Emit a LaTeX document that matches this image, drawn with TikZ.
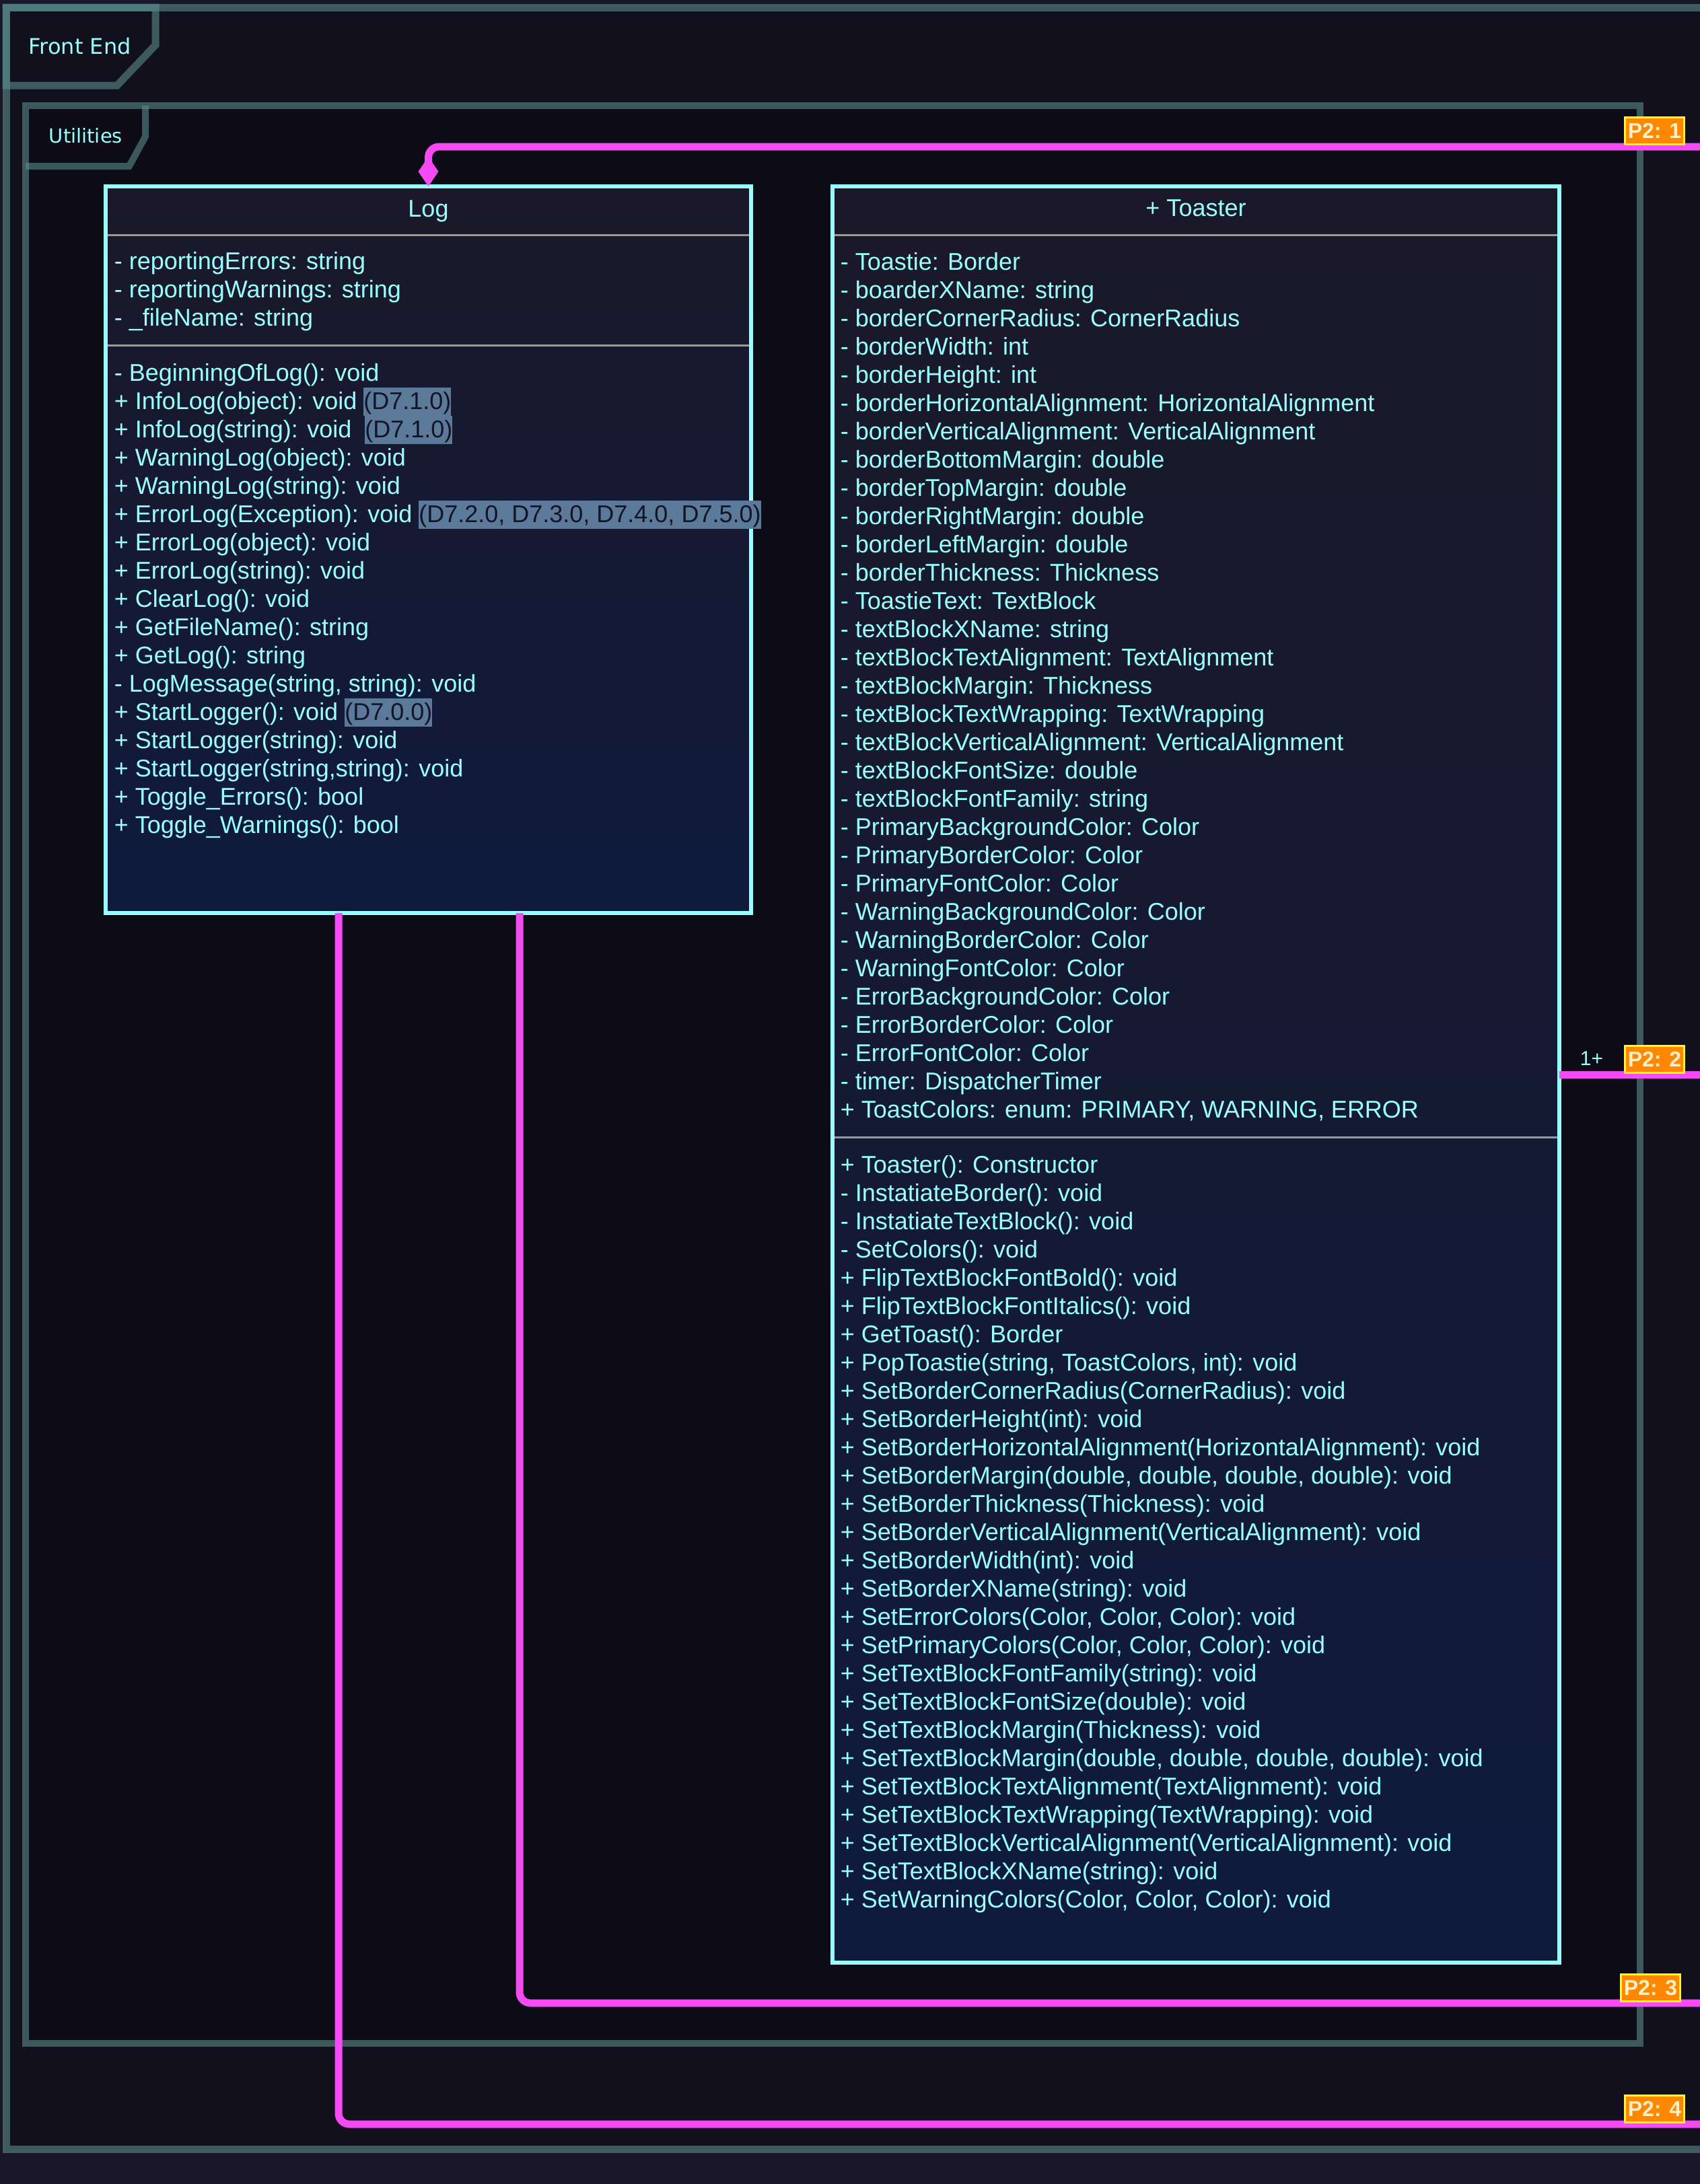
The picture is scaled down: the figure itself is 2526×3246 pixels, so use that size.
\documentclass[tikz,border=0pt]{standalone}
\usepackage{fontspec}
\setmainfont{Liberation Sans}
\newfontfamily\framefont{DejaVu Sans}
\usetikzlibrary{arrows.meta,calc,fit}

\definecolor{outerbg}{HTML}{1A1828}
\definecolor{febg}{HTML}{11101C}
\definecolor{utbg}{HTML}{0C0B16}
\definecolor{framec}{HTML}{5B8C8C}
\definecolor{cyantext}{HTML}{99FFFF}
\definecolor{boxtop}{HTML}{1B1929}
\definecolor{boxbot}{HTML}{0F1A3D}
\definecolor{sepgrey}{HTML}{9A9A9A}
\definecolor{linkc}{HTML}{F54BF5}
\definecolor{tagfill}{HTML}{FF8800}
\definecolor{tagborder}{HTML}{FFFF00}
\definecolor{tagtext}{HTML}{FFF0C8}
\definecolor{verbg}{HTML}{5B7A99}
\definecolor{verfg}{HTML}{141426}

% version marker behind a member
\newcommand\ver[1]{{\setlength{\fboxsep}{0pt}\colorbox{verbg}{\color{verfg}\rule[-2.5pt]{0pt}{10.5pt}(#1)}}}

\begin{document}
\begin{tikzpicture}[x=0.25pt,y=-0.25pt,
    frame/.style={draw=framec,draw opacity=.6,line width=2.75pt},
    framelabel/.style={anchor=base west,inner sep=0pt,text=cyantext},
    classbox/.style={draw=cyantext,line width=1.5pt,top color=boxtop,bottom color=boxbot,inner sep=0pt,outer sep=0pt},
    member/.style={anchor=base west,inner sep=0pt,text=cyantext,font=\fontsize{9}{10.5}\selectfont},
    classname/.style={member,anchor=base},
    sep/.style={draw=sepgrey,line width=.75pt,shorten <=.75pt,shorten >=.75pt},
    link/.style={draw=linkc,line width=2.75pt,rounded corners=4pt},
    tag/.style={fill=tagfill,draw=tagborder,line width=.75pt,text=tagtext,font=\bfseries\fontsize{8}{9}\selectfont,
      inner sep=1pt,outer sep=0pt,minimum width=21pt,minimum height=10pt,anchor=south}]
  \useasboundingbox (0,0) rectangle (2526,3246);
  % background
  \fill[outerbg] (0,0) rectangle (2526,3246);
  \fill[febg] (9,11) rectangle (2560,3194);
  \fill[utbg] (38,157) rectangle (2437,3037);
  % frames
  \draw[frame] (9,11) rectangle (2560,3194);
  \draw[frame] (9,11) -- (231,11) -- (231,67) -- (174,127) -- (9,127) -- cycle;
  \node[framelabel,font=\framefont\fontsize{8}{9}\selectfont] (fe) at (42,80) {Front End};
  \draw[frame,line width=2.5pt] (38,157) rectangle (2437,3037);
  \draw[frame,line width=2.5pt] (216,157) -- (216,203) -- (192,247) -- (38,247);
  \node[framelabel,font=\framefont\fontsize{7.25}{8.5}\selectfont] (ut) at (72,212) {Utilities};

  % Log
  \node[classbox,fit={(157,277) (1116,1357)}] (log) {};
  \draw[sep] (157,349) -- (1116,349);
  \draw[sep] (157,513) -- (1116,513);
  \node[classname] (logname) at (636.5,322) {Log};
  \foreach \t [count=\i from 0] in {{- reportingErrors: string},{- reportingWarnings: string},{- \_fileName: string}}
    \node[member] at (169,400+42*\i) {\t};
  \foreach \t [count=\i from 0] in {
      {- BeginningOfLog(): void},
      {+ InfoLog(object): void \ver{D7.1.0}},
      {+ InfoLog(string): void\ \ \ver{D7.1.0}},
      {+ WarningLog(object): void},
      {+ WarningLog(string): void},
      {+ ErrorLog(Exception): void \ver{D7.2.0, D7.3.0, D7.4.0, D7.5.0}},
      {+ ErrorLog(object): void},
      {+ ErrorLog(string): void},
      {+ ClearLog(): void},
      {+ GetFileName(): string},
      {+ GetLog(): string},
      {- LogMessage(string, string): void},
      {+ StartLogger(): void \ver{D7.0.0}},
      {+ StartLogger(string): void},
      {+ StartLogger(string,string): void},
      {+ Toggle\_Errors(): bool},
      {+ Toggle\_Warnings(): bool}}
    \node[member] at (169,566+42*\i) {\t};

  % Toaster
  \node[classbox,fit={(1237,277) (2317,2917)}] (toaster) {};
  \draw[sep] (1237,349) -- (2317,349);
  \draw[sep] (1237,1690) -- (2317,1690);
  \node[classname] (toastername) at (1777,321) {+ Toaster};
  \foreach \t [count=\i from 0] in {
      {- Toastie: Border},
      {- boarderXName: string},
      {- borderCornerRadius: CornerRadius},
      {- borderWidth: int},
      {- borderHeight: int},
      {- borderHorizontalAlignment: HorizontalAlignment},
      {- borderVerticalAlignment: VerticalAlignment},
      {- borderBottomMargin: double},
      {- borderTopMargin: double},
      {- borderRightMargin: double},
      {- borderLeftMargin: double},
      {- borderThickness: Thickness},
      {- ToastieText: TextBlock},
      {- textBlockXName: string},
      {- textBlockTextAlignment: TextAlignment},
      {- textBlockMargin: Thickness},
      {- textBlockTextWrapping: TextWrapping},
      {- textBlockVerticalAlignment: VerticalAlignment},
      {- textBlockFontSize: double},
      {- textBlockFontFamily: string},
      {- PrimaryBackgroundColor: Color},
      {- PrimaryBorderColor: Color},
      {- PrimaryFontColor: Color},
      {- WarningBackgroundColor: Color},
      {- WarningBorderColor: Color},
      {- WarningFontColor: Color},
      {- ErrorBackgroundColor: Color},
      {- ErrorBorderColor: Color},
      {- ErrorFontColor: Color},
      {- timer: DispatcherTimer},
      {+ ToastColors: enum: PRIMARY, WARNING, ERROR}}
    \node[member] at (1248,401+42*\i) {\t};
  \foreach \t [count=\i from 0] in {
      {+ Toaster(): Constructor},
      {- InstatiateBorder(): void},
      {- InstatiateTextBlock(): void},
      {- SetColors(): void},
      {+ FlipTextBlockFontBold(): void},
      {+ FlipTextBlockFontItalics(): void},
      {+ GetToast(): Border},
      {+ PopToastie(string, ToastColors, int): void},
      {+ SetBorderCornerRadius(CornerRadius): void},
      {+ SetBorderHeight(int): void},
      {+ SetBorderHorizontalAlignment(HorizontalAlignment): void},
      {+ SetBorderMargin(double, double, double, double): void},
      {+ SetBorderThickness(Thickness): void},
      {+ SetBorderVerticalAlignment(VerticalAlignment): void},
      {+ SetBorderWidth(int): void},
      {+ SetBorderXName(string): void},
      {+ SetErrorColors(Color, Color, Color): void},
      {+ SetPrimaryColors(Color, Color, Color): void},
      {+ SetTextBlockFontFamily(string): void},
      {+ SetTextBlockFontSize(double): void},
      {+ SetTextBlockMargin(Thickness): void},
      {+ SetTextBlockMargin(double, double, double, double): void},
      {+ SetTextBlockTextAlignment(TextAlignment): void},
      {+ SetTextBlockTextWrapping(TextWrapping): void},
      {+ SetTextBlockVerticalAlignment(VerticalAlignment): void},
      {+ SetTextBlockXName(string): void},
      {+ SetWarningColors(Color, Color, Color): void}}
    \node[member] at (1248,1743+42*\i) {\t};

  % links to page 2
  \coordinate (r1) at (2526,218);
  \coordinate (r2) at (2526,1597);
  \coordinate (r3) at (2526,2977);
  \coordinate (r4) at (2526,3157);
  \draw[link,-{Diamond[length=11pt,width=7.5pt,line width=0pt]}] (r1) -| (log.north);
  \draw[link] (toaster.east |- r2) -- (r2);
  \draw[link] ($(log.south)+(135.5,0)$) |- (r3);
  \draw[link] ($(log.south)+(-133.5,0)$) |- (r4);
  \node[member,font=\fontsize{7.5}{9}\selectfont] (mult2) at (2347,1583) {1+};
  \node[tag] (p1) at ($(r1)+(-67.5,-4)$) {P2: 1};
  \node[tag] (p2) at ($(r2)+(-67.5,-3)$) {P2: 2};
  \node[tag] (p3) at ($(r3)+(-73.5,-3)$) {P2: 3};
  \node[tag] (p4) at ($(r4)+(-67.5,-3)$) {P2: 4};
\end{tikzpicture}
\end{document}
